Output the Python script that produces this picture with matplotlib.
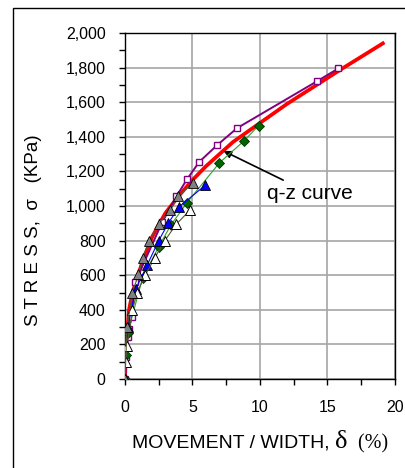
import matplotlib.pyplot as plt
from matplotlib.patches import Rectangle
from matplotlib.offsetbox import TextArea, HPacker, AnnotationBbox
from matplotlib.ticker import MultipleLocator, FuncFormatter

# q-z curve
qz_x = [0, 0.1, 0.3, 0.55, 1.3, 2.0, 3.0, 4.0, 5.0, 6.0, 7.0, 8.0, 10.0, 12.0, 14.0, 16.0, 19.1]
qz_y = [0, 220, 400, 500, 680, 820, 960, 1060, 1150, 1230, 1300, 1370, 1480, 1590, 1690, 1790, 1940]

# test series
sq_x = [0, 0.1, 0.2, 0.3, 0.5, 0.75, 2.75, 3.8, 4.6, 5.5, 6.8, 8.3, 14.2, 15.8]
sq_y = [0, 130, 240, 290, 360, 560, 905, 1055, 1155, 1255, 1350, 1450, 1720, 1795]

gt_x = [0, 0.15, 0.55, 1.0, 1.3, 1.8, 2.5, 3.35, 3.95, 5.05]
gt_y = [0, 300, 500, 605, 700, 800, 895, 975, 1055, 1135]

bt_x = [0, 0.2, 0.8, 1.65, 2.5, 3.2, 4.0, 5.95]
bt_y = [0, 300, 520, 660, 800, 900, 995, 1120]

gd_x = [0, 0.1, 0.2, 1.3, 2.5, 3.4, 4.6, 7.0, 8.8, 9.9]
gd_y = [0, 140, 265, 585, 765, 890, 1020, 1250, 1375, 1465]

wt_x = [0, 0.05, 0.15, 0.55, 0.9, 1.5, 2.2, 2.95, 3.8, 4.8]
wt_y = [0, 100, 190, 400, 500, 600, 700, 800, 895, 975]

plt.rcParams['font.family'] = ['Liberation Sans', 'DejaVu Sans']

fig = plt.figure(figsize=(4.06, 4.68), dpi=100)
ax = fig.add_axes([125/406, 1-379/468, 270/406, 346/468])

ax.plot(qz_x, qz_y, color='red', lw=2.7, zorder=3)
ax.plot(sq_x, sq_y, color='#800080', lw=1.4, marker='s', ms=5,
        mfc='white', mec='#800080', mew=1, zorder=4)
ax.plot(gd_x, gd_y, color='#2ca02c', lw=0.8, marker='D', ms=5,
        mfc='#006400', mec='#003300', mew=0.6, zorder=4)
ax.plot(bt_x, bt_y, color='blue', lw=0.8, marker='^', ms=7,
        mfc='blue', mec='black', mew=0.6, zorder=4)
ax.plot(wt_x, wt_y, color='#555530', lw=0.8, marker='^', ms=7,
        mfc='white', mec='black', mew=0.7, zorder=5)
ax.plot(gt_x, gt_y, color='#555530', lw=0.8, marker='^', ms=7,
        mfc='#808080', mec='black', mew=0.6, zorder=5)

ax.annotate('q-z curve', xy=(7.3, 1318), xytext=(10.5, 1075),
            fontsize=15, va='center', ha='left',
            arrowprops=dict(arrowstyle='-|>', color='black', lw=1.2,
                            mutation_scale=11, shrinkA=1, shrinkB=0))

ax.set_xlim(0, 20)
ax.set_ylim(0, 2000)
ax.xaxis.set_major_locator(MultipleLocator(5))
ax.xaxis.set_minor_locator(MultipleLocator(2.5))
ax.yaxis.set_major_locator(MultipleLocator(200))
ax.yaxis.set_minor_locator(MultipleLocator(100))
ax.yaxis.set_major_formatter(FuncFormatter(lambda v, p: f'{int(v):,}'))
ax.tick_params(which='both', direction='out', length=4, width=1, labelsize=11.5)
ax.tick_params(axis='x', pad=11)
ax.tick_params(axis='y', pad=10)
ax.grid(True, which='major', color='#a6a6a6', lw=1.2)
ax.set_axisbelow(True)
for s in ax.spines.values():
    s.set_linewidth(1)

ax.set_ylabel('S T R E S S,  σ   (KPa)', fontsize=13.5)
ax.yaxis.set_label_coords(-0.307, 0.43)

# x label mixes sans and serif like the original
parts = [TextArea('MOVEMENT / WIDTH, ', textprops=dict(fontsize=14, family='Liberation Sans')),
         TextArea('δ', textprops=dict(fontsize=19, family='Liberation Serif')),
         TextArea('  (%)', textprops=dict(fontsize=14.5, family='Liberation Serif'))]
box = HPacker(children=parts, align='baseline', pad=0, sep=0)
ab = AnnotationBbox(box, (260/406, 1-442/468), xycoords='figure fraction',
                    frameon=False, box_alignment=(0.5, 0.5))
fig.add_artist(ab)

# chart area border
fig.add_artist(Rectangle((13/406, -0.1), 2, 1.1-8/468, transform=fig.transFigure,
                         fill=False, lw=1, color='black'))

plt.savefig('out.png', dpi=100)
